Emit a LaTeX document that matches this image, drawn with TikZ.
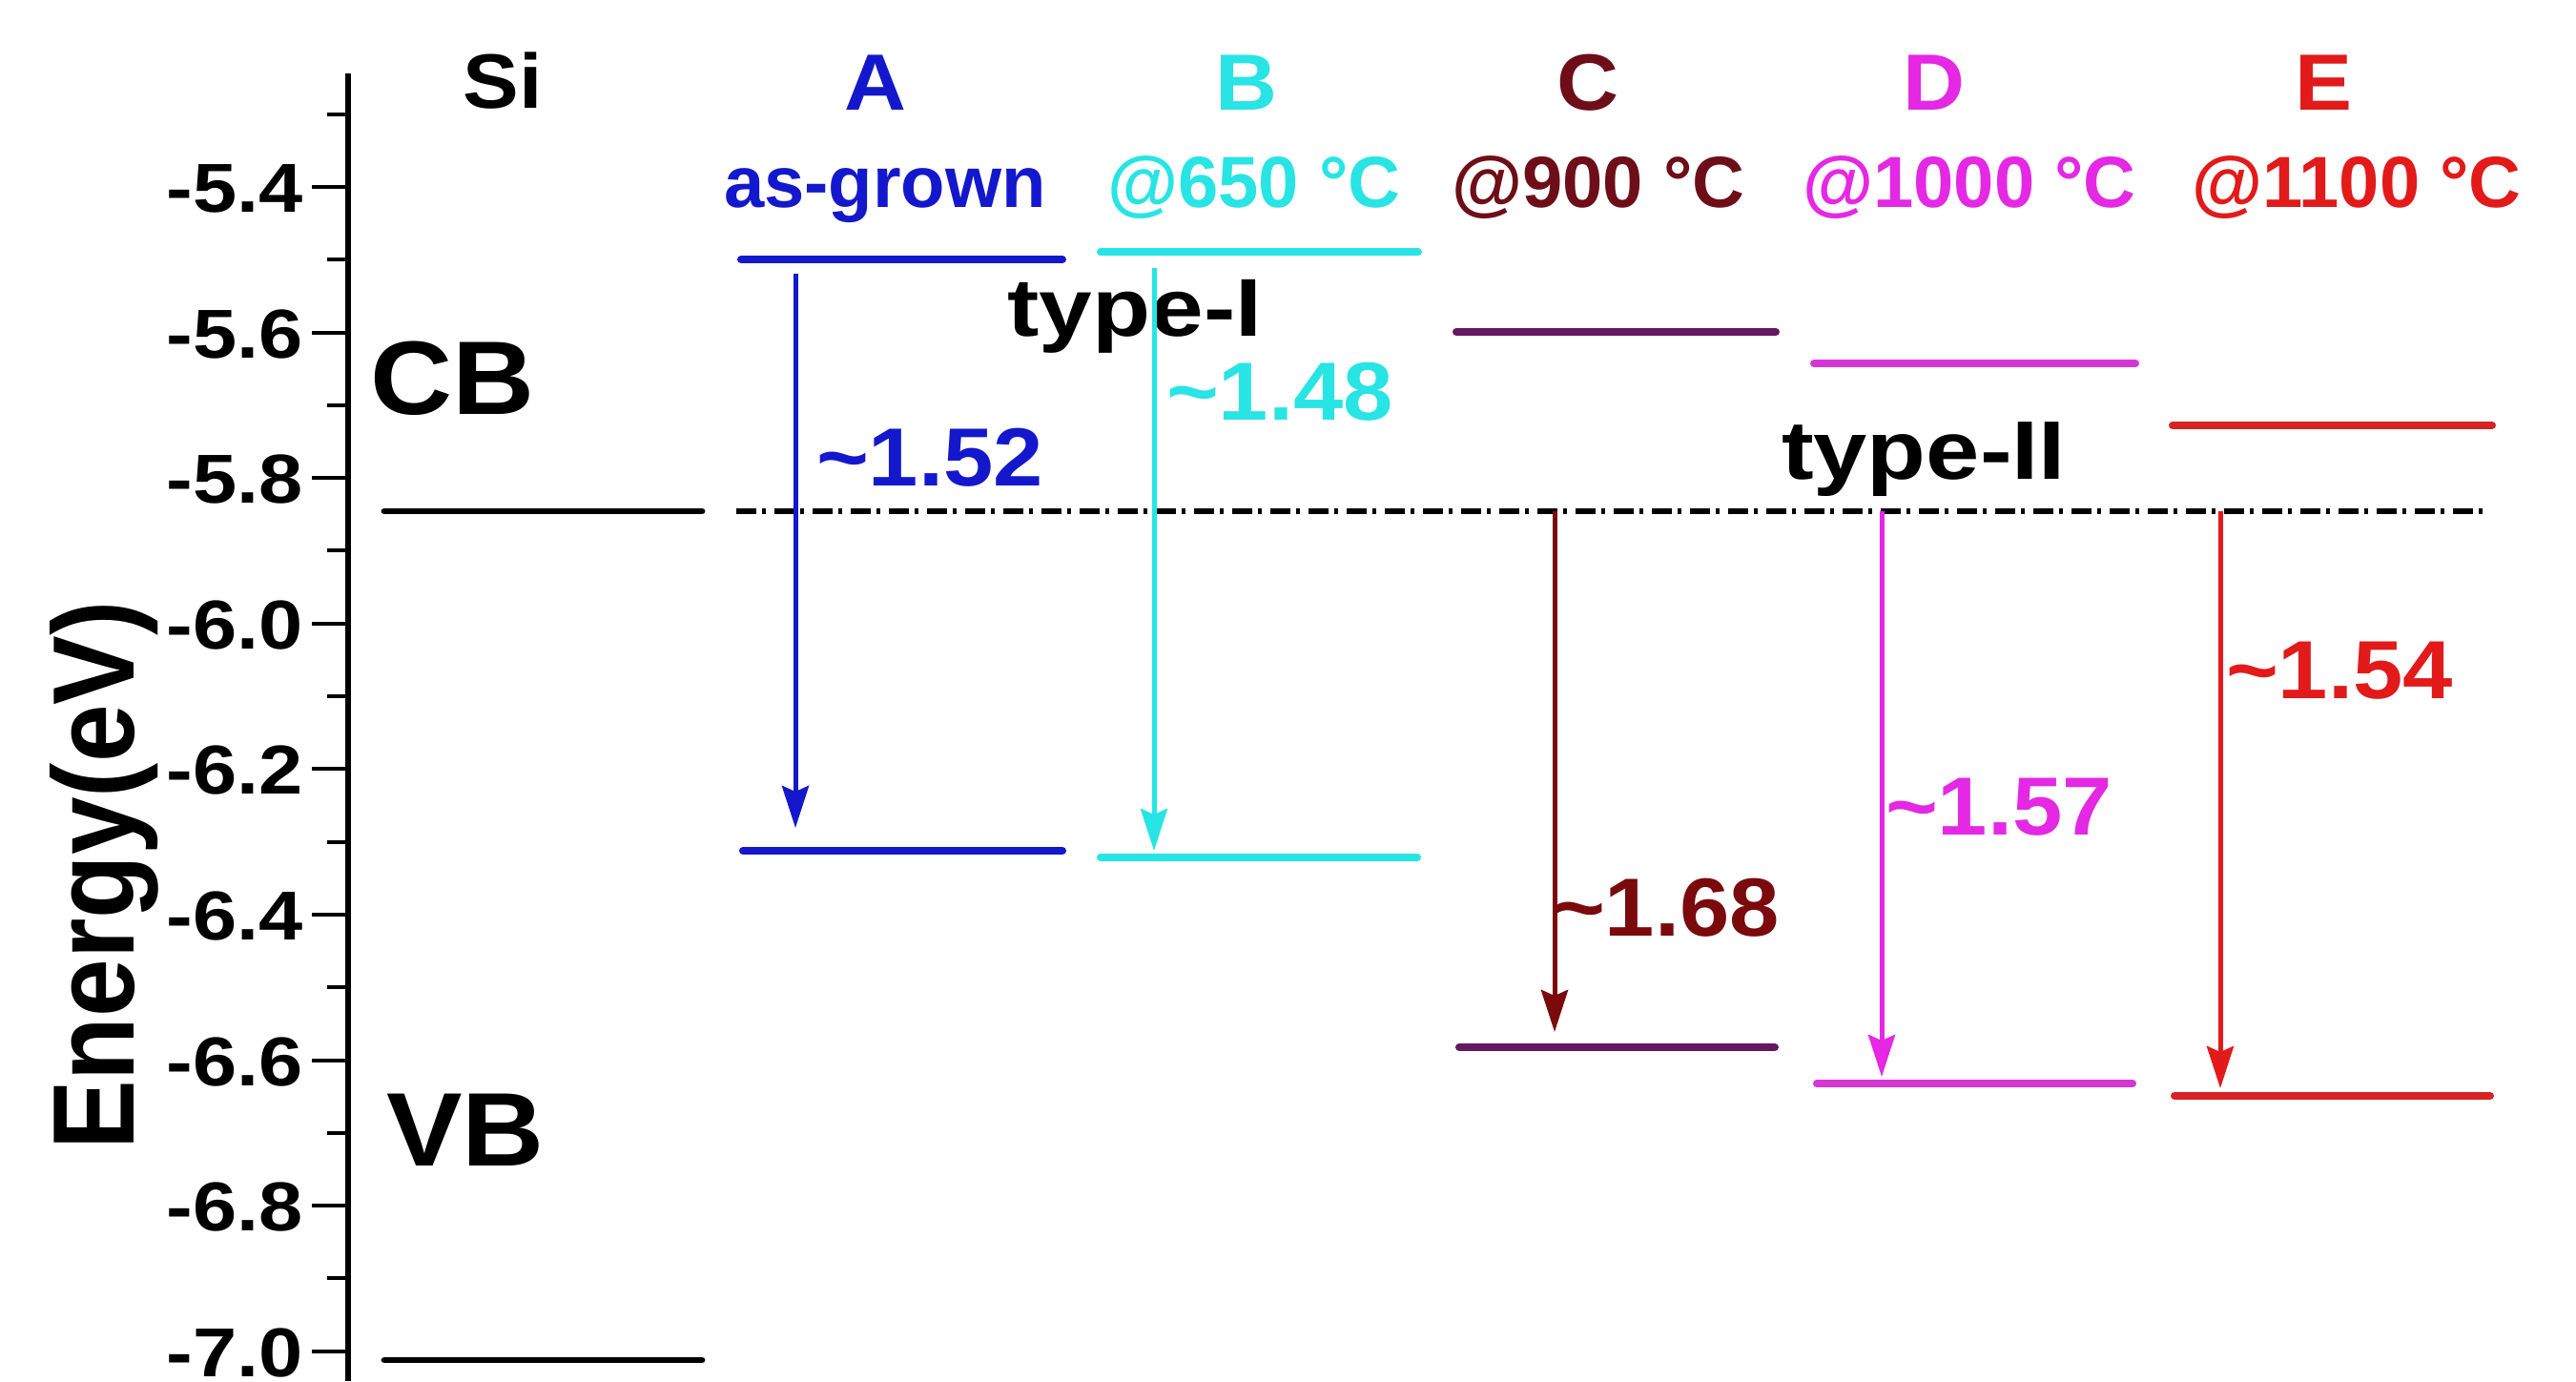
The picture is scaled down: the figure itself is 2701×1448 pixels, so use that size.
\documentclass[tikz,border=0pt]{standalone}
\usepackage{fontspec}
\setmainfont{Liberation Sans}
\usepackage{graphicx}
\usetikzlibrary{arrows.meta}

% sample colours
\definecolor{cA}{RGB}{20,24,204}
\definecolor{cB}{RGB}{40,228,228}
\definecolor{cCtxt}{RGB}{110,14,24}
\definecolor{cCarr}{RGB}{122,10,12}
\definecolor{cClev}{RGB}{100,24,96}
\definecolor{cD}{RGB}{228,40,228}
\definecolor{cDlev}{RGB}{214,54,214}
\definecolor{cE}{RGB}{226,26,26}
\definecolor{cElev}{RGB}{214,36,36}

% squeeze a text vertically
\newcommand\vsq[2]{\scalebox{1}[#1]{#2}}
\newcommand\fs[1]{\fontsize{#1}{#1}\selectfont\bfseries}

\begin{document}
\begin{tikzpicture}[x=0.25pt,y=-0.25pt,
  txt/.style={inner sep=0pt,outer sep=0pt,anchor=base},
  ticklbl/.style={txt,anchor=base east,font=\fs{20.75}},
  sample/.style={txt,font=\fs{22.5}},
  anneal/.style={txt,font=\fs{19}},
  band/.style={txt,font=\fs{29.8}},
  gaplbl/.style={txt,font=\fs{23.5}},
  typelbl/.style={txt,font=\fs{25}},
  axisline/.style={line width=1.5pt,black},
  majortick/.style={line width=1.2pt,black},
  minortick/.style={line width=1.2pt,black},
  level/.style={line width=2pt,line cap=round},
  transition/.style={line width=1.25pt,-{Stealth[length=11pt,width=7pt,inset=1.5pt]}},
  siCB/.style={line width=1.5pt,black,dash pattern=on 5.25pt off 1.6pt on 1pt off 2.15pt},
]
\fill[white] (0,0) rectangle (2701,1448);
\useasboundingbox (0,0) rectangle (2701,1448);

% energy axis
\draw[axisline] (365,77) -- (365,1448);
\foreach \yy/\lab [count=\k] in {196/-5.4,349/-5.6,501/-5.8,654/-6.0,806/-6.2,959/-6.4,1112/-6.6,1264/-6.8,1417/-7.0}{
  \draw[majortick] (327,\yy) -- (365,\yy);
  \node[ticklbl] (tick\k) at (318,\yy+26) {\vsq{0.875}{\lab}};
}
\foreach \yy in {120,272,425,577,730,883,1035,1188,1340}{
  \draw[minortick] (343,\yy) -- (365,\yy);
}
\node[txt,rotate=90,font=\fs{27.25}] (ylabel) at (140,918) {\vsq{1.115}{Energy(eV)}};

% column headings
\node[txt,font=\fs{22}] (si) at (527,113) {\vsq{0.92}{Si}};
\node[sample,text=cA] (hA) at (918,115) {\vsq{0.93}{A}};
\node[sample,text=cB] (hB) at (1307,115) {\vsq{0.93}{B}};
\node[sample,text=cCtxt] (hC) at (1665,115) {\vsq{0.93}{C}};
\node[sample,text=cD] (hD) at (2028,115) {\vsq{0.93}{D}};
\node[sample,text=cE] (hE) at (2436,115) {\vsq{0.93}{E}};

\node[anneal,text=cA] (tA) at (928,217) {as-grown};
\node[anneal,text=cB] (tB) at (1315,217) {@650 °C};
\node[anneal,text=cCtxt] (tC) at (1676,217) {@900 °C};
\node[anneal,text=cD] (tD) at (2065,217) {@1000 °C};
\node[anneal,text=cE] (tE) at (2471,217) {@1100 °C};

% silicon band edges
\node[band] (cb) at (475,434) {\vsq{0.92}{CB}};
\node[band] (vb) at (488,1222) {\vsq{0.92}{VB}};
\draw[level,black,line width=1.7pt] (403,536) -- (736,536);
\draw[level,black,line width=1.7pt] (403,1426) -- (736,1426);
\draw[siCB] (772,536) -- (2611,536);

% band edges of the samples
\draw[level,cA] (777,272) -- (1114,272);
\draw[level,cA] (779,892) -- (1114,892);
\draw[level,cB] (1154,264) -- (1487,264);
\draw[level,cB] (1154,899) -- (1486,899);
\draw[level,cClev] (1527,348) -- (1862,348);
\draw[level,cClev] (1530,1098) -- (1861,1098);
\draw[level,cDlev] (1902,381) -- (2239,381);
\draw[level,cDlev] (1905,1136) -- (2236,1136);
\draw[level,cElev] (2278,446) -- (2613,446);
\draw[level,cElev] (2280,1149) -- (2611,1149);

% alignment labels
\node[typelbl] (t1) at (1190,352) {\vsq{0.86}{type-I}};
\node[typelbl,font=\fs{25.3}] (t2) at (2017,502) {\vsq{0.86}{type-II}};

% gap values
\node[gaplbl,text=cA] (gA) at (975,509) {\vsq{0.92}{\textasciitilde1.52}};
\node[gaplbl,text=cB] (gB) at (1342,440) {\vsq{0.92}{\textasciitilde1.48}};
\node[gaplbl,text=cCarr] (gC) at (1747,981) {\vsq{0.92}{\textasciitilde1.68}};
\node[gaplbl,text=cD] (gD) at (2096,875) {\vsq{0.92}{\textasciitilde1.57}};
\node[gaplbl,text=cE] (gE) at (2453,732) {\vsq{0.92}{\textasciitilde1.54}};

% transitions
\coordinate (aTop) at (834,287);  \coordinate (aBot) at (834,868);
\coordinate (bTop) at (1210,281); \coordinate (bBot) at (1210,892);
\coordinate (cTop) at (1630,536); \coordinate (cBot) at (1630,1082);
\coordinate (dTop) at (1973,536); \coordinate (dBot) at (1973,1129);
\coordinate (eTop) at (2328,536); \coordinate (eBot) at (2328,1141);
\draw[transition,cA] (aTop) -- (aBot);
\draw[transition,cB] (bTop) -- (bBot);
\draw[transition,cCarr] (cTop) -- (cBot);
\draw[transition,cD] (dTop) -- (dBot);
\draw[transition,cE] (eTop) -- (eBot);
\end{tikzpicture}
\end{document}
